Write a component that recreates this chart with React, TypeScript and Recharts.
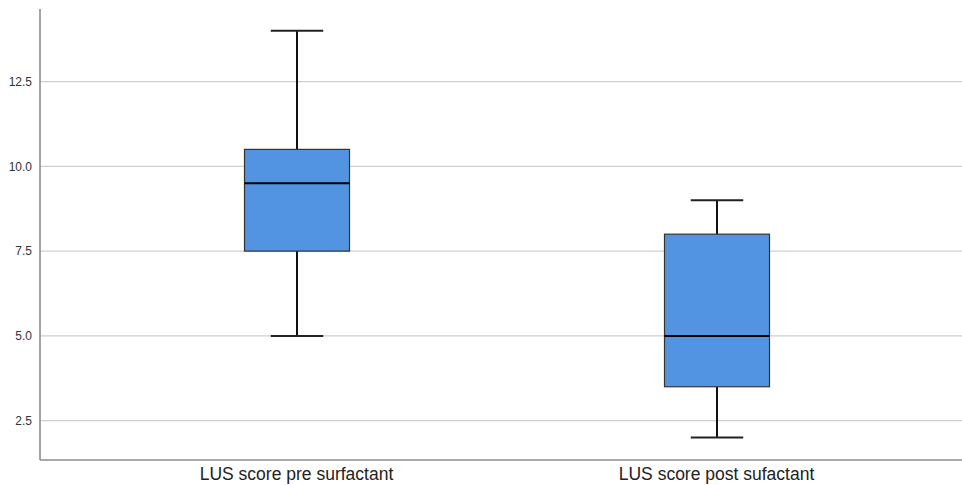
import React from "react";
import { ComposedChart, Bar, XAxis, YAxis, CartesianGrid } from "recharts";

const categories = ["LUS score pre surfactant", "LUS score post sufactant"];
const whiskerLow = [5, 2];
const q1 = [7.5, 3.5];
const median = [9.5, 5];
const q3 = [10.5, 8];
const whiskerHigh = [14, 9];
const yTicks = [2.5, 5, 7.5, 10, 12.5];

const data = categories.map((name, i) => ({
  name,
  range: [whiskerLow[i], whiskerHigh[i]],
  low: whiskerLow[i],
  q1: q1[i],
  median: median[i],
  q3: q3[i],
  high: whiskerHigh[i],
}));

const BoxShape = (props: any) => {
  const { x, y, width, height, payload } = props;
  const { low, high } = payload;
  const toY = (v: number) => y + ((high - v) / (high - low)) * height;
  const cx = x + width / 2;
  const capHalf = width / 4;
  const yHigh = toY(high);
  const yLow = toY(low);
  const yQ1 = toY(payload.q1);
  const yQ3 = toY(payload.q3);
  const yMed = toY(payload.median);
  return (
    <g>
      <line x1={cx} x2={cx} y1={yHigh} y2={yQ3} stroke="#111" strokeWidth={2} />
      <line x1={cx} x2={cx} y1={yQ1} y2={yLow} stroke="#111" strokeWidth={2} />
      <line x1={cx - capHalf} x2={cx + capHalf} y1={yHigh} y2={yHigh} stroke="#222" strokeWidth={2} />
      <line x1={cx - capHalf} x2={cx + capHalf} y1={yLow} y2={yLow} stroke="#222" strokeWidth={2} />
      <rect x={x} y={yQ3} width={width} height={yQ1 - yQ3} fill="#5294E2" stroke="#333" strokeWidth={1.2} />
      <line x1={x} x2={x + width} y1={yMed} y2={yMed} stroke="#000" strokeWidth={2} />
    </g>
  );
};

export default function App() {
  return (
    <div style={{ position: "absolute", left: 0, top: 0, fontFamily: "'Liberation Sans', Arial, sans-serif" }}>
      <ComposedChart
        width={962}
        height={485}
        data={data}
        margin={{ top: 9, right: 0, left: 0, bottom: 0 }}
      >
        <CartesianGrid
          horizontal
          vertical={false}
          horizontalValues={yTicks}
          syncWithTicks
          stroke="#cfcfcf"
          strokeWidth={1.2}
        />
        <XAxis
          dataKey="name"
          type="category"
          height={25}
          padding={{ left: 46.5, right: 35.5 }}
          tickLine={false}
          axisLine={{ stroke: "#8c8c8c", strokeWidth: 1.6 }}
          tick={{ fill: "#222", fontSize: 17.5 }}
          tickMargin={2}
          interval={0}
        />
        <YAxis
          type="number"
          domain={[1.34, 14.64]}
          ticks={yTicks}
          width={40}
          tickLine={false}
          axisLine={{ stroke: "#8c8c8c", strokeWidth: 1.6 }}
          tick={{ fill: "#333", fontSize: 12 }}
          tickFormatter={(v: number) => v.toFixed(1)}
          allowDataOverflow
        />
        <Bar dataKey="range" barSize={105} shape={<BoxShape />} isAnimationActive={false} />
      </ComposedChart>
    </div>
  );
}
